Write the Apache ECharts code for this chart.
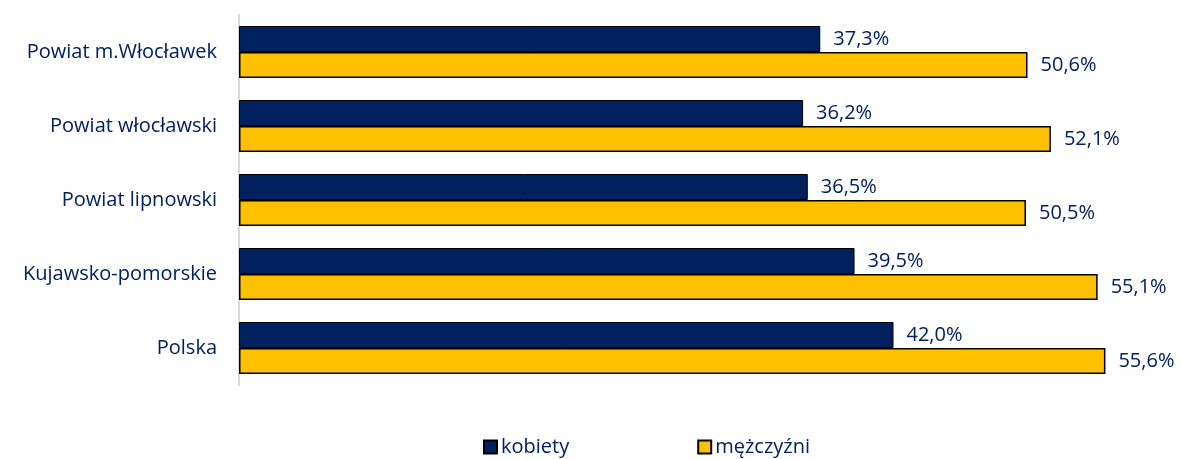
<!DOCTYPE html>
<html>
<head>
<meta charset="utf-8">
<script src="https://cdn.jsdelivr.net/npm/echarts@6/dist/echarts.min.js"></script>
<style>
  html, body { margin: 0; padding: 0; background: #fff; }
  #chart { width: 1181px; height: 459px; }
</style>
</head>
<body>
<div id="chart"></div>
<script>
// 数据
const categories = ['Powiat m.Włocławek', 'Powiat włocławski', 'Powiat lipnowski', 'Kujawsko-pomorskie', 'Polska'];
const kobiety = [37.3, 36.2, 36.5, 39.5, 42.0];
const mezczyzni = [50.6, 52.1, 50.5, 55.1, 55.6];
const seriesNames = ['kobiety', 'mężczyźni'];

const textColor = '#002060';
const font = 'Open Sans';

const chart = echarts.init(document.getElementById('chart'));

const labelOpt = {
    show: true,
    position: 'right',
    distance: 13,
    color: textColor,
    fontFamily: font,
    fontSize: 20,
    formatter: p => p.value.toFixed(1).replace('.', ',') + '%'
};

chart.setOption({
    backgroundColor: '#ffffff',
    animation: false,
    textStyle: { fontFamily: font },
    grid: { left: 239, top: 15, width: 935, height: 370 },
    legend: {
        bottom: -3,
        left: 478,
        itemWidth: 13,
        itemHeight: 13,
        itemGap: 128,
        icon: 'rect',
        textStyle: { color: textColor, fontFamily: font, fontSize: 20, padding: [0, 0, 0, -1] },
        data: seriesNames
    },
    xAxis: {
        type: 'value',
        min: 0,
        max: 60,
        show: false
    },
    yAxis: {
        type: 'category',
        inverse: true,
        data: categories,
        axisLine: { lineStyle: { color: '#d9d9d9', width: 2 } },
        axisTick: { show: false },
        axisLabel: { color: textColor, fontFamily: font, fontSize: 20, margin: 22 }
    },
    series: [
        {
            name: seriesNames[0],
            type: 'bar',
            data: kobiety,
            barWidth: 26,
            barGap: '0%',
            itemStyle: { color: '#002060', borderColor: '#000000', borderWidth: 1 },
            label: labelOpt
        },
        {
            name: seriesNames[1],
            type: 'bar',
            data: mezczyzni,
            barWidth: 26,
            itemStyle: { color: '#ffc000', borderColor: '#000000', borderWidth: 1.5 },
            label: labelOpt
        }
    ]
});
</script>
</body>
</html>
